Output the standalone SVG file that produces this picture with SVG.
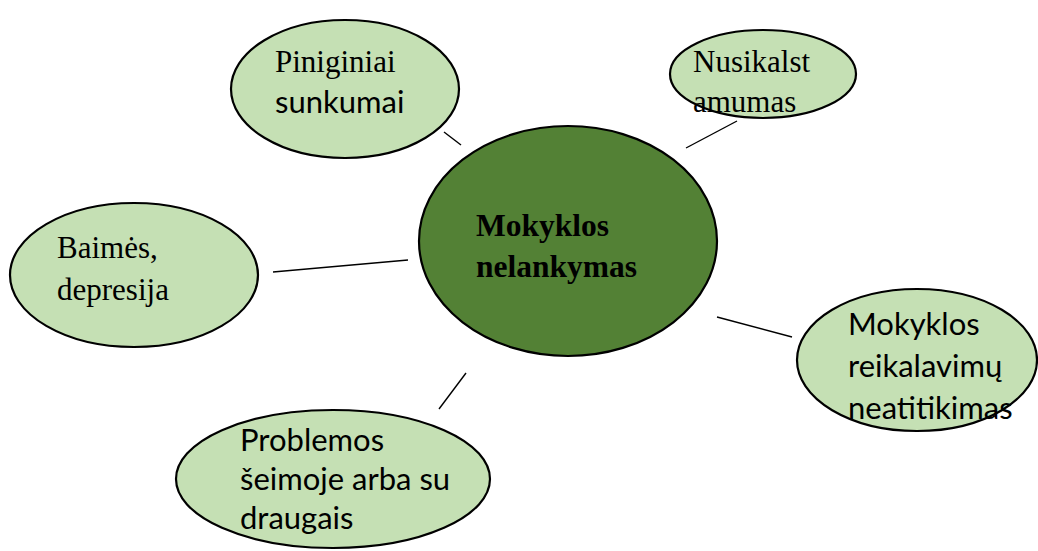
<svg xmlns="http://www.w3.org/2000/svg" width="1038" height="551" viewBox="0 0 1038 551">
<style>
.light{fill:#C5E0B4;stroke:#000;stroke-width:2.2}
.dark{fill:#538135;stroke:#000;stroke-width:2.2}
.serif{font-family:"Liberation Serif","Times New Roman",serif;font-size:31px;fill:#000}
.bold{font-family:"Liberation Serif","Times New Roman",serif;font-size:31.5px;font-weight:bold;fill:#000}
.sans{font-family:Lato,"Liberation Sans",sans-serif;font-size:31px;fill:#000}
.conn line{stroke:#000;stroke-width:1.4}
</style>
<rect width="1038" height="551" fill="#fff"/>
<g class="conn" id="connectors">
<line x1="444" y1="132" x2="461" y2="145"/>
<line x1="737" y1="121" x2="686" y2="148"/>
<line x1="273" y1="272" x2="408" y2="260"/>
<line x1="717" y1="317" x2="792" y2="337"/>
<line x1="466" y1="373" x2="439" y2="409"/>
</g>
<g id="center">
<ellipse class="dark" cx="568" cy="241" rx="149" ry="115"/>
<text class="bold" x="476" y="236">Mokyklos</text>
<text class="bold" x="476" y="277">nelankymas</text>
</g>
<g id="piniginiai">
<ellipse class="light" cx="345" cy="89" rx="114" ry="69"/>
<text class="serif" x="275" y="72">Piniginiai</text>
<text class="sans" x="275" y="113">sunkumai</text>
</g>
<g id="nusikalstamumas">
<ellipse class="light" cx="763" cy="74" rx="93" ry="44"/>
<text class="serif" x="693" y="72">Nusikalst</text>
<text class="serif" x="693" y="112">amumas</text>
</g>
<g id="baimes">
<ellipse class="light" cx="134" cy="275" rx="124" ry="72"/>
<text class="serif" x="57" y="258">Baimės,</text>
<text class="serif" x="57" y="300">depresija</text>
</g>
<g id="reikalavimai">
<ellipse class="light" cx="917" cy="360" rx="120" ry="71"/>
<text class="sans" x="848" y="335">Mokyklos</text>
<text class="sans" x="848" y="377">reikalavimų</text>
<text class="sans" x="848" y="419">neatitikimas</text>
</g>
<g id="problemos">
<ellipse class="light" cx="333" cy="479" rx="157" ry="69"/>
<text class="sans" x="240" y="451">Problemos</text>
<text class="sans" x="240" y="490">šeimoje arba su</text>
<text class="sans" x="240" y="529">draugais</text>
</g>
</svg>
